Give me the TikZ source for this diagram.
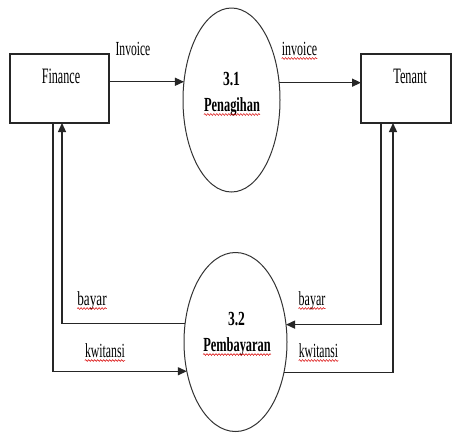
\documentclass[tikz,border=0pt]{standalone}
\usepackage{fontspec}
\setmainfont{Liberation Serif}
\usetikzlibrary{shapes.geometric,arrows.meta,decorations.pathmorphing}
\newcommand{\nar}[2][0.6]{\scalebox{#1}[1]{#2}}
\begin{document}
\begin{tikzpicture}[x=1pt,y=-1pt,
  box/.style={draw=black!85,line width=1.6pt,minimum width=99pt,minimum height=69pt,inner sep=0pt,outer sep=0pt},
  proc/.style={ellipse,draw=black!80,line width=1pt,inner sep=0pt,outer sep=0pt},
  flow/.style={draw=black!85,line width=1.3pt,-{Triangle[length=9pt,width=8pt]}},
  lbl/.style={anchor=base,inner sep=0pt,font=\fontsize{20}{20}\selectfont},
  ttl/.style={anchor=base,inner sep=0pt,font=\fontsize{20}{20}\selectfont\bfseries},
  ent/.style={anchor=base,inner sep=0pt,font=\fontsize{22}{22}\selectfont},
  wavy/.style={draw=red!85!black,line width=0.5pt,decorate,decoration={snake,amplitude=0.9pt,segment length=3pt}}
]
\useasboundingbox[fill=white] (0,0) rectangle (454,432);

% entities
\node[box] (fin) at (59.5,88.5) {};
\node[box,minimum width=90pt] (ten) at (406,88.5) {};
\node[ent] (fint) at (61,83) {\nar[0.55]{Finance}};
\node[ent] (tent) at (410,83) {\nar[0.56]{Tenant}};

% processes
\node[proc,minimum width=97pt,minimum height=184pt] (p31) at (231.5,100) {};
\node[proc,minimum width=103pt,minimum height=179pt] (p32) at (235.5,342) {};
\node[ttl] (n31) at (231.5,85) {\nar[0.68]{3.1}};
\node[ttl] (pen) at (232,111) {\nar[0.62]{Penagihan}};
\node[ttl] (n32) at (236.5,325) {\nar[0.68]{3.2}};
\node[ttl] (pem) at (237,351) {\nar[0.62]{Pembayaran}};

% flows
\draw[flow] (p31.159.3 -| fin.east) -- (p31.159.3);
\draw[flow] (p31.20.7) -- (p31.20.7 -| ten.west);
\draw[flow] (p32.160.4) -| ([xshift=2.5pt]fin.south);
\draw[flow] ([xshift=-6.5pt]fin.south) |- (p32.211.7);
\draw[flow] ([xshift=-25pt]ten.south) |- (p32.19.6);
\draw[flow] (p32.328.3) -| ([xshift=-13pt]ten.south);

% flow labels
\node[lbl] (linv) at (133,55) {\nar[0.58]{Invoice}};
\node[lbl] (rinv) at (299.5,55) {\nar[0.6]{invoice}};
\node[lbl] (lbay) at (92,305) {\nar[0.66]{bayar}};
\node[lbl] (lkwi) at (105,357) {\nar[0.59]{kwitansi}};
\node[lbl] (rbay) at (312,305) {\nar[0.6]{bayar}};
\node[lbl] (rkwi) at (318.5,357) {\nar[0.58]{kwitansi}};

% spell-check squiggles
\foreach \t in {pen,pem,rinv,lbay,lkwi,rbay,rkwi}
  \draw[wavy] ([yshift=-3.5pt]\t.base west) -- ([yshift=-3.5pt]\t.base east);
\end{tikzpicture}
\end{document}
